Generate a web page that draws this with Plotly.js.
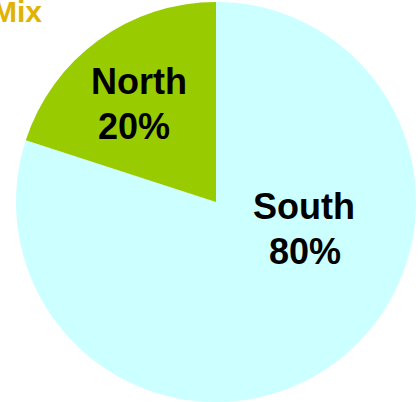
<!DOCTYPE html>
<html><head><meta charset="utf-8">
<script src="https://cdn.plot.ly/plotly-3.0.1.min.js"></script>
<style>html,body{margin:0;padding:0;background:#fff;}#chart{width:418px;height:402px;}</style>
</head><body><div id="chart"></div>
<script>
const regions = ['South', 'North'];
const shares = [80, 20];
const sliceColors = ['#CCFFFF', '#99CC00'];
const titleText = 'Mix';

const W = 418, H = 402;
const cx = 216, cyTop = 202, R = 200;
const FONT = 'Liberation Sans, Arial, sans-serif';
// label placement (pixel centres of the two text lines for each slice)
const labelPos = {
  South: {name: [304, 206], pct: [304.5, 251]},
  North: {name: [138.6, 82], pct: [133.7, 126]}
};

const total = shares.reduce((a, b) => a + b, 0);
const data = [{
  type: 'pie',
  labels: regions,
  values: shares,
  sort: false,
  direction: 'clockwise',
  rotation: 0,
  marker: {colors: sliceColors, line: {width: 0}},
  textinfo: 'none',
  hoverinfo: 'none',
  showlegend: false,
  domain: {x: [(cx - R) / W, (cx + R) / W], y: [(H - cyTop - R) / H, (H - cyTop + R) / H]}
}];

const annotations = [];
regions.forEach((r, i) => {
  const p = labelPos[r];
  const pct = Math.round(shares[i] / total * 100) + '%';
  [[r, p.name], [pct, p.pct]].forEach(([t, xy]) => {
    annotations.push({
      text: '<b>' + t + '</b>', xref: 'paper', yref: 'paper',
      x: xy[0] / W, y: 1 - xy[1] / H, xanchor: 'center', yanchor: 'middle',
      showarrow: false, font: {family: FONT, size: 36, color: '#000'}
    });
  });
});

const layout = {
  width: W, height: H,
  margin: {l: 0, r: 0, t: 0, b: 0},
  paper_bgcolor: '#fff',
  showlegend: false,
  title: {
    text: '<b>' + titleText + '</b>',
    xref: 'paper', yref: 'container',
    x: 42 / W, xanchor: 'right',
    y: 1 - 11.6 / H, yanchor: 'middle',
    font: {family: FONT, size: 30, color: '#DFB300'}
  },
  annotations: annotations
};
Plotly.newPlot('chart', data, layout, {displayModeBar: false, staticPlot: true});
</script></body></html>
